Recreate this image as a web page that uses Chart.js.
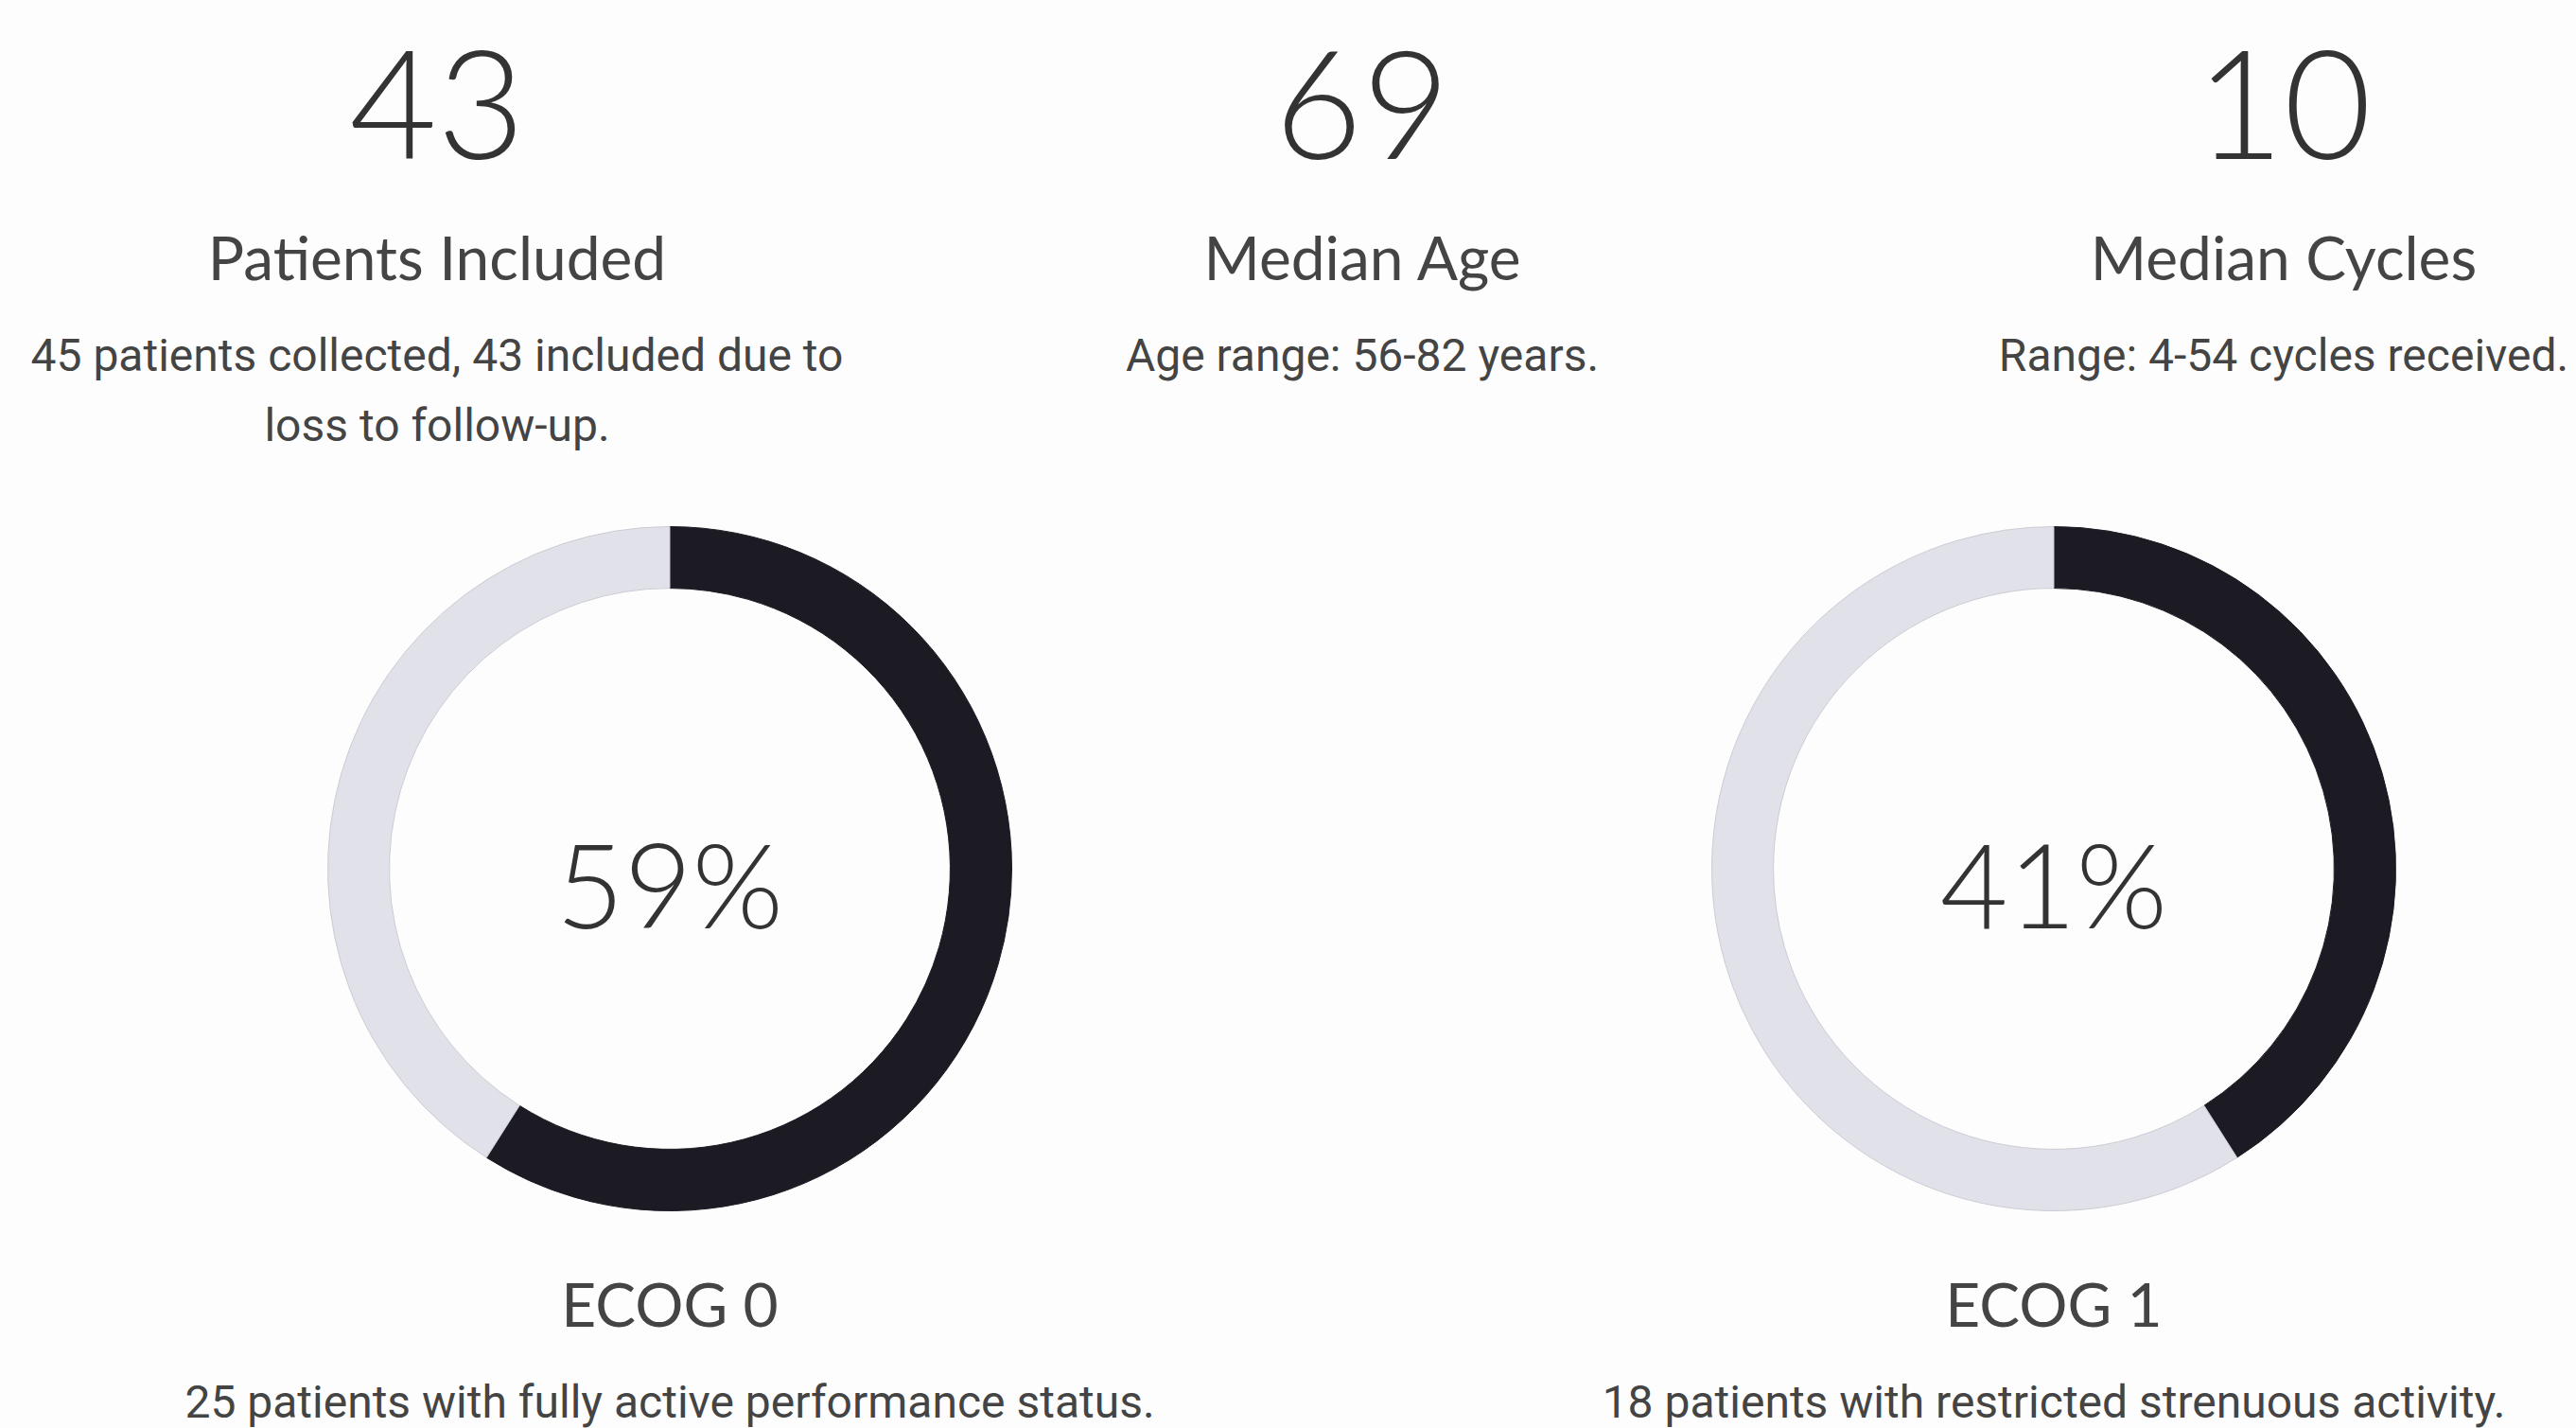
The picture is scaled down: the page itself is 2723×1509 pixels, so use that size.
<!DOCTYPE html>
<html>
<head>
<meta charset="utf-8">
<script src="https://cdn.jsdelivr.net/npm/chart.js@4/dist/chart.umd.min.js"></script>
<style>
  html, body { margin: 0; padding: 0; }
  body { width: 2723px; height: 1509px; background: #fdfdfd; position: relative; overflow: hidden; }
  .txt { position: absolute; width: 1400px; text-align: center; white-space: nowrap; line-height: 1; }
  .big { font-family: Lato, sans-serif; font-weight: 300; font-size: 160px; color: #333; }
  .head { font-family: Lato, sans-serif; font-weight: 400; font-size: 64px; color: #444; }
  .note { font-family: Roboto, sans-serif; font-weight: 400; font-size: 48px; line-height: 74px; color: #444; }
  .pct { font-family: Lato, sans-serif; font-weight: 300; font-size: 124px; color: #333; }
  canvas { position: absolute; }
</style>
</head>
<body>
<script>
// top row stats
var statValues = ['43', '69', '10'];
var statTitles = ['Patients Included', 'Median Age', 'Median Cycles'];
var statNotes = [
  '45 patients collected, 43 included due to<br>loss to follow-up.',
  'Age range: 56-82 years.',
  'Range: 4-54 cycles received.'
];

// ECOG donuts
var ecogLabels = ['ECOG 0', 'ECOG 1'];
var ecogShare = [59, 41];
var ecogNotes = [
  '25 patients with fully active performance status.',
  '18 patients with restricted strenuous activity.'
];

var statX = [462, 1440, 2414];
var donutX = [708, 2171];
var donutY = 918;
var donutSize = 724;

function addText(cls, html, cx, top) {
  var d = document.createElement('div');
  d.className = 'txt ' + cls;
  d.innerHTML = html;
  d.style.left = (cx - 700) + 'px';
  d.style.top = top + 'px';
  document.body.appendChild(d);
  return d;
}

for (var i = 0; i < statValues.length; i++) {
  addText('big', statValues[i], statX[i], 26);
  addText('head', statTitles[i], statX[i], 240);
  addText('note', statNotes[i], statX[i], 339);
}

for (var j = 0; j < ecogShare.length; j++) {
  var cv = document.createElement('canvas');
  cv.width = donutSize;
  cv.height = donutSize;
  cv.style.left = (donutX[j] - donutSize / 2) + 'px';
  cv.style.top = (donutY - donutSize / 2) + 'px';
  document.body.appendChild(cv);

  new Chart(cv.getContext('2d'), {
    type: 'doughnut',
    data: {
      labels: [ecogLabels[j], 'Other'],
      datasets: [{
        data: [ecogShare[j], 100 - ecogShare[j]],
        backgroundColor: ['#1c1b24', '#e1e1e9'],
        borderColor: ['#1c1b24', '#cbcbd4'],
        borderWidth: 1
      }]
    },
    options: {
      responsive: false,
      animation: false,
      cutout: '82%',
      layout: { padding: 0 },
      plugins: {
        legend: { display: false },
        tooltip: { enabled: false }
      }
    }
  });

  addText('pct', ecogShare[j] + '%', donutX[j], 871);
  addText('head', ecogLabels[j], donutX[j], 1346);
  addText('note', ecogNotes[j], donutX[j], 1445);
}
</script>
</body>
</html>
